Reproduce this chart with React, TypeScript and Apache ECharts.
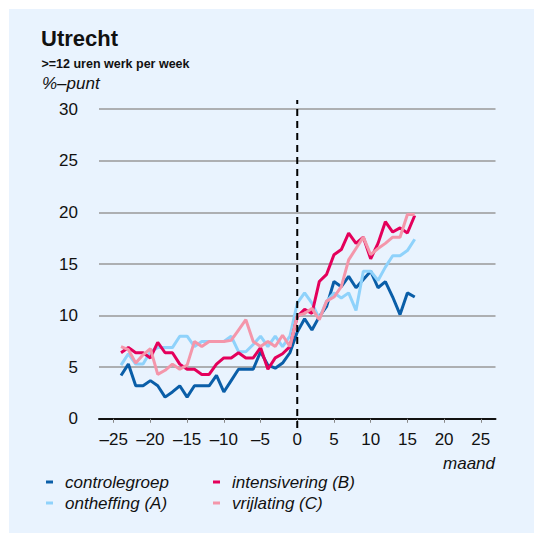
import React, { useEffect, useRef } from 'react';
import * as echarts from 'echarts';

const months = [-24, -23, -22, -21, -20, -19, -18, -17, -16, -15, -14, -13, -12, -11, -10, -9, -8, -7, -6, -5, -4, -3, -2, -1, 0, 1, 2, 3, 4, 5, 6, 7, 8, 9, 10, 11, 12, 13, 14, 15, 16];

const controlegroep = [4.2, 5.3, 3.2, 3.2, 3.7, 3.2, 2.1, 2.6, 3.2, 2.1, 3.2, 3.2, 3.2, 4.2, 2.6, 3.7, 4.8, 4.8, 4.8, 6.5, 5.2, 4.9, 5.4, 6.4, 8.4, 9.7, 8.6, 9.9, 10.9, 13.3, 12.8, 13.8, 12.7, 13.5, 14.3, 12.7, 13.3, 11.8, 10.1, 12.2, 11.8];
const ontheffing = [5.2, 6.3, 5.3, 5.3, 6.5, 6.9, 6.9, 6.9, 8.0, 8.0, 7.0, 7.5, 7.5, 7.5, 7.5, 8.0, 6.5, 6.5, 7.2, 8.0, 7.0, 8.0, 7.0, 8.0, 11.2, 12.2, 11.2, 9.7, 11.4, 12.2, 11.7, 12.2, 10.5, 14.3, 14.3, 13.4, 14.7, 15.8, 15.8, 16.3, 17.4];
const intensivering = [6.4, 6.9, 6.4, 6.4, 5.9, 7.4, 6.4, 6.4, 5.3, 4.8, 4.8, 4.3, 4.3, 5.3, 5.9, 5.9, 6.4, 5.9, 5.9, 6.9, 4.8, 5.9, 6.3, 7.0, 9.9, 10.6, 10.2, 13.3, 14.0, 15.9, 16.4, 18.0, 17.0, 17.6, 15.5, 17.0, 19.1, 18.1, 18.5, 18.0, 19.7];
const vrijlating = [7.0, 6.7, 5.4, 6.2, 6.8, 4.3, 4.7, 5.3, 4.8, 5.2, 7.5, 7.0, 7.5, 7.5, 7.5, 7.6, 8.6, 9.6, 7.5, 7.0, 7.5, 7.0, 8.1, 7.0, 10.0, 10.2, 10.7, 9.6, 11.4, 11.8, 12.8, 15.4, 16.5, 17.6, 15.9, 16.5, 17.0, 17.6, 17.6, 19.8, 19.8];

const xTicks = [-25, -20, -15, -10, -5, 0, 5, 10, 15, 20, 25];
const seriesNames = ['controlegroep', 'ontheffing (A)', 'intensivering (B)', 'vrijlating (C)'];
const seriesColors = ['#0a5ea8', '#8fd2fb', '#e4005b', '#f496aa'];
const seriesData = [controlegroep, ontheffing, intensivering, vrijlating];

// reference line at month 0, spanning slightly beyond the value range
const refLineMonth = 0;
const refLineRange = [-0.9, 30.9];

const FONT = 'Liberation Sans, Arial, Helvetica, sans-serif';

export default function App() {
  const ref = useRef<HTMLDivElement>(null);
  useEffect(() => {
    const chart = echarts.init(ref.current!, null, { renderer: 'svg' });
    const legendBase = {
      orient: 'vertical',
      icon: 'rect',
      itemWidth: 7,
      itemHeight: 3,
      itemGap: 0,
      padding: 0,
      top: 471.5,
      textStyle: { fontSize: 17, fontStyle: 'italic', color: '#111', fontFamily: FONT, lineHeight: 21, padding: [0, 0, 0, 7] },
    };
    chart.setOption({
      animation: false,
      backgroundColor: '#ffffff',
      textStyle: { fontFamily: FONT },
      graphic: [
        { type: 'rect', z: -10, shape: { x: 9, y: 9, width: 525, height: 524 }, style: { fill: '#e9f3fe' }, silent: true },
        { type: 'text', x: 41, y: 38.5, style: { text: 'Utrecht', fontSize: 22, fontWeight: 'bold', fill: '#111', fontFamily: FONT, textVerticalAlign: 'middle' } },
        { type: 'text', x: 41.5, y: 64, style: { text: '>=12 uren werk per week', fontSize: 12.5, fontWeight: 'bold', fill: '#111', fontFamily: FONT, textVerticalAlign: 'middle' } },
        { type: 'text', x: 42, y: 83.5, style: { text: '%–punt', fontSize: 17, fontStyle: 'italic', fill: '#111', fontFamily: FONT, textVerticalAlign: 'middle' } },
        { type: 'text', x: 495, y: 463, style: { text: 'maand', fontSize: 17, fontStyle: 'italic', fill: '#111', fontFamily: FONT, textAlign: 'right', textVerticalAlign: 'middle' } },
      ],
      grid: { left: 99, right: 38.5, top: 109.2, bottom: 114.2 },
      legend: [
        { ...legendBase, left: 46, data: [seriesNames[0], seriesNames[1]] },
        { ...legendBase, left: 213, data: [seriesNames[2], seriesNames[3]] },
      ],
      xAxis: {
        type: 'value',
        min: -27,
        max: 27,
        axisLine: { show: true, onZero: false, lineStyle: { color: '#111', width: 2 } },
        axisTick: { show: true, customValues: xTicks, length: 4, lineStyle: { color: '#888', width: 1 } },
        axisLabel: {
          customValues: xTicks,
          margin: 12,
          fontSize: 17,
          color: '#111',
          fontFamily: FONT,
          formatter: (v: number) => String(v).replace('-', '–'),
        },
        splitLine: { show: false },
      },
      yAxis: {
        type: 'value',
        min: 0,
        max: 30,
        interval: 5,
        axisLine: { show: false },
        axisTick: { show: false },
        axisLabel: { margin: 21, fontSize: 17, color: '#111', fontFamily: FONT },
        splitLine: { lineStyle: { color: '#999', width: 1.5 } },
      },
      series: [
        ...seriesNames.map((name, i) => ({
          name,
          type: 'line',
          symbol: 'none',
          color: seriesColors[i],
          lineStyle: { width: 3, color: seriesColors[i] },
          z: 3 + i,
          data: months.map((m, j) => [m, seriesData[i][j]]),
        })),
        {
          type: 'custom',
          name: 'ref',
          silent: true,
          clip: false,
          z: 10,
          data: [[refLineMonth, refLineRange[0], refLineRange[1]]],
          encode: { x: 0, y: [1, 2] },
          renderItem: (params: any, api: any) => {
            const p1 = api.coord([api.value(0), api.value(1)]);
            const p2 = api.coord([api.value(0), api.value(2)]);
            return {
              type: 'line',
              shape: { x1: p1[0], y1: p1[1], x2: p2[0], y2: p2[1] },
              style: { stroke: '#000', lineWidth: 2, lineDash: [7, 5] },
            };
          },
        },
      ],
    });
    return () => chart.dispose();
  }, []);
  return <div ref={ref} style={{ position: 'fixed', left: 0, top: 0, width: 534, height: 533, background: '#fff' }} />;
}
